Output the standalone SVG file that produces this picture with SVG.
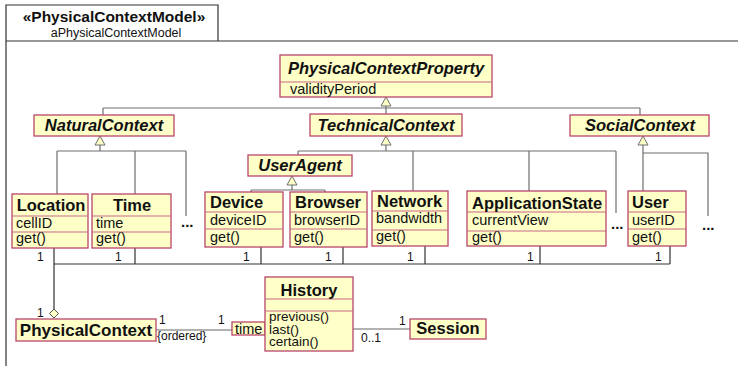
<svg xmlns="http://www.w3.org/2000/svg" width="738" height="366" viewBox="0 0 738 366">
  <style>
    text { font-family: "Liberation Sans", Arial, Helvetica, sans-serif; fill: #111; }
    .box { fill: #ffffc8; stroke: #b8466a; stroke-width: 1.3; }
    .sep { stroke: #c86888; stroke-width: 1.2; }
    .name { font-size: 16.5px; font-weight: bold; }
    .abs { font-size: 16.5px; font-weight: bold; font-style: italic; }
    .feat { font-size: 14.5px; }
    .op { font-size: 13.5px; }
    .mult { font-size: 12px; }
    .dots { font-size: 15px; font-weight: bold; }
    .gen { fill: none; stroke: #6e6e6e; stroke-width: 1.2; }
    .tri { fill: #ffffc8; stroke: #6e6e6e; stroke-width: 1; }
    .assoc { fill: none; stroke: #333; stroke-width: 1.2; }
    .link { fill: none; stroke: #999; stroke-width: 1.4; }
    .frame { fill: none; stroke: #333; stroke-width: 1.2; }
    .mid { text-anchor: middle; }
  </style>

  <!-- package frame -->
  <g id="frame">
    <rect x="0" y="0" width="738" height="366" fill="#ffffff"/>
    <polyline class="frame" points="6,366 6,5 218,5 218,41"/>
    <line class="frame" x1="6" y1="41" x2="738" y2="41"/>
    <text x="114" y="22" class="mid" font-size="15.5px" font-weight="bold">«PhysicalContextModel»</text>
    <text x="116" y="37" class="mid" font-size="12.5px">aPhysicalContextModel</text>
  </g>

  <!-- connectors -->
  <g id="connectors">
    <!-- generalizations -->
    <path class="gen" d="M386,106 V114 M103,108 H640 M103,108 V115 M640,108 V115"/>
    <polygon class="tri" points="386,97 381,106 391,106"/>

    <path class="gen" d="M100,145 V151 M57,151 H186 M57,151 V194 M135,151 V194 M186,151 V216"/>
    <polygon class="tri" points="100,136 95,145 105,145"/>

    <path class="gen" d="M386,145 V151 M298,151 H616 M298,151 V155 M413,151 V191 M529,151 V191 M616,151 V213"/>
    <polygon class="tri" points="386,136 381,145 391,145"/>

    <path class="gen" d="M292,185 V190 M251,190 H325 M251,190 V192 M325,190 V192"/>
    <polygon class="tri" points="292,176 287,185 297,185"/>

    <path class="gen" d="M643,145 V191 M643,153 H708 V216"/>
    <polygon class="tri" points="643,136 638,145 648,145"/>

    <!-- aggregation of the properties into PhysicalContext -->
    <path class="assoc" d="M54,264 H670 M54,248 V309 M135,248 V264 M261,247 V264 M343,247 V264 M425,246 V264 M540,246 V264 M670,246 V264"/>
    <polygon points="54,309 58.5,313.5 54,318 49.5,313.5" fill="#ffffc8" stroke="#555" stroke-width="1"/>

    <!-- qualified association and History to Session -->
    <line class="link" x1="156" y1="330" x2="232" y2="330"/>
    <line class="link" x1="353" y1="329" x2="410" y2="329"/>

    <!-- multiplicities -->
    <text class="mult" x="37" y="261">1</text>
    <text class="mult" x="115" y="261">1</text>
    <text class="mult" x="243" y="261">1</text>
    <text class="mult" x="325" y="261">1</text>
    <text class="mult" x="407" y="261">1</text>
    <text class="mult" x="527" y="261">1</text>
    <text class="mult" x="655" y="261">1</text>
    <text class="mult" x="37" y="317">1</text>
    <text class="mult" x="159" y="324">1</text>
    <text class="mult" x="218" y="324">1</text>
    <text class="mult" x="157" y="340">{ordered}</text>
    <text class="mult" x="361" y="342">0..1</text>
    <text class="mult" x="399" y="325">1</text>

    <!-- further subclasses left out -->
    <text class="dots" x="181" y="227">...</text>
    <text class="dots" x="611" y="229">...</text>
    <text class="dots" x="702" y="230">...</text>
  </g>

  <!-- classes -->
  <g id="PhysicalContextProperty">
    <rect class="box" x="280" y="55" width="212" height="42"/>
    <line class="sep" x1="280" y1="82" x2="492" y2="82"/>
    <text class="abs mid" x="386" y="74">PhysicalContextProperty</text>
    <text class="feat" x="290" y="94">validityPeriod</text>
  </g>

  <g id="NaturalContext">
    <rect class="box" x="34" y="115" width="140" height="21"/>
    <text class="abs mid" x="104" y="131">NaturalContext</text>
  </g>

  <g id="TechnicalContext">
    <rect class="box" x="310" y="114" width="152" height="22"/>
    <text class="abs mid" x="386" y="131">TechnicalContext</text>
  </g>

  <g id="SocialContext">
    <rect class="box" x="570" y="115" width="139" height="21"/>
    <text class="abs mid" x="640" y="131">SocialContext</text>
  </g>

  <g id="UserAgent">
    <rect class="box" x="248" y="155" width="104" height="21"/>
    <text class="abs mid" x="300" y="171">UserAgent</text>
  </g>

  <g id="Location">
    <rect class="box" x="12" y="194" width="76" height="54"/>
    <line class="sep" x1="12" y1="216" x2="88" y2="216"/>
    <line class="sep" x1="12" y1="232" x2="88" y2="232"/>
    <text class="name mid" x="51" y="211">Location</text>
    <text class="feat" x="16" y="228">cellID</text>
    <text class="feat" x="16" y="243">get()</text>
  </g>

  <g id="Time">
    <rect class="box" x="92" y="194" width="79" height="54"/>
    <line class="sep" x1="92" y1="216" x2="171" y2="216"/>
    <line class="sep" x1="92" y1="232" x2="171" y2="232"/>
    <text class="name mid" x="132" y="211">Time</text>
    <text class="feat" x="96" y="228">time</text>
    <text class="feat" x="96" y="243">get()</text>
  </g>

  <g id="Device">
    <rect class="box" x="205" y="192" width="78" height="55"/>
    <line class="sep" x1="205" y1="212" x2="283" y2="212"/>
    <line class="sep" x1="205" y1="229" x2="283" y2="229"/>
    <text class="name" x="210" y="208">Device</text>
    <text class="feat" x="210" y="225">deviceID</text>
    <text class="feat" x="210" y="242">get()</text>
  </g>

  <g id="Browser">
    <rect class="box" x="290" y="192" width="77" height="55"/>
    <line class="sep" x1="290" y1="212" x2="367" y2="212"/>
    <line class="sep" x1="290" y1="229" x2="367" y2="229"/>
    <text class="name" x="295" y="208">Browser</text>
    <text class="feat" x="294" y="225">browserID</text>
    <text class="feat" x="294" y="242">get()</text>
  </g>

  <g id="Network">
    <rect class="box" x="372" y="191" width="76" height="55"/>
    <line class="sep" x1="372" y1="211" x2="448" y2="211"/>
    <line class="sep" x1="372" y1="230" x2="448" y2="230"/>
    <text class="name" x="377" y="207">Network</text>
    <text class="feat" x="376" y="223">bandwidth</text>
    <text class="feat" x="376" y="241">get()</text>
  </g>

  <g id="ApplicationState">
    <rect class="box" x="467" y="191" width="139" height="55"/>
    <line class="sep" x1="467" y1="212" x2="606" y2="212"/>
    <line class="sep" x1="467" y1="231" x2="606" y2="231"/>
    <text class="name" x="472" y="209">ApplicationState</text>
    <text class="feat" x="472" y="225">currentView</text>
    <text class="feat" x="472" y="242">get()</text>
  </g>

  <g id="User">
    <rect class="box" x="628" y="191" width="58" height="55"/>
    <line class="sep" x1="628" y1="212" x2="686" y2="212"/>
    <line class="sep" x1="628" y1="229" x2="686" y2="229"/>
    <text class="name" x="632" y="208">User</text>
    <text class="feat" x="632" y="225">userID</text>
    <text class="feat" x="632" y="242">get()</text>
  </g>

  <g id="PhysicalContext">
    <rect class="box" x="16" y="319" width="140" height="22"/>
    <text class="mid" x="86" y="336" font-size="17px" font-weight="bold">PhysicalContext</text>
  </g>

  <g id="timeQualifier">
    <rect class="box" x="232" y="322" width="33" height="13"/>
    <text class="feat" x="235" y="334">time</text>
  </g>

  <g id="History">
    <rect class="box" x="265" y="277" width="88" height="74"/>
    <line class="sep" x1="265" y1="299" x2="353" y2="299"/>
    <line class="sep" x1="265" y1="311" x2="353" y2="311"/>
    <text class="name mid" x="309" y="296">History</text>
    <text class="op" x="269" y="321">previous()</text>
    <text class="op" x="269" y="333.5">last()</text>
    <text class="op" x="269" y="346">certain()</text>
  </g>

  <g id="Session">
    <rect class="box" x="410" y="319" width="76" height="20"/>
    <text class="name mid" x="448" y="334">Session</text>
  </g>
</svg>
